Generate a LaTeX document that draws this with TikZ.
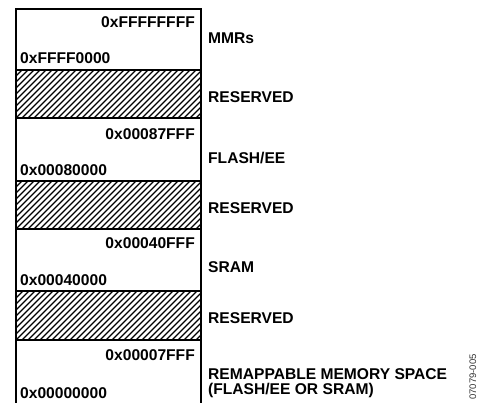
\documentclass[tikz,border=0pt]{standalone}
\usepackage{fontspec}
\setmainfont{Liberation Sans}
\usepackage{tikz}
\usetikzlibrary{positioning, calc}
\tikzset{
  mm row/.style={draw=black, fill=white, rectangle, minimum width=185pt,
    inner sep=0pt, outer sep=0pt, line width=1.3pt},
  mm hatch/.style={draw=black, line width=1.2pt},
  mm addr/.style={font=\fontsize{15.6}{16}\selectfont\bfseries, inner sep=0pt},
  mm label/.style={font=\fontsize{15.6}{15}\selectfont\bfseries, inner sep=0pt,
    align=left},
  mm tag/.style={font=\fontsize{9.5}{10}\selectfont, text=black!80, inner sep=0pt},
}
\begin{document}
\begin{tikzpicture}[x=1pt, y=-1pt]
 \useasboundingbox (0,0) rectangle (481,402);
 % memory map, top to bottom
 \node[mm row, minimum height=61pt, anchor=north west] (mmr) at (16,9) {};
 \node[mm row, minimum height=48pt, below=0pt of mmr] (res1) {};
 \node[mm row, minimum height=63pt, below=0pt of res1] (flash) {};
 \node[mm row, minimum height=48pt, below=0pt of flash] (res2) {};
 \node[mm row, minimum height=62pt, below=0pt of res2] (sram) {};
 \node[mm row, minimum height=49pt, below=0pt of sram] (res3) {};
 \node[mm row, minimum height=66pt, below=0pt of res3] (remap) {};
 % hatching of the reserved areas
 \foreach \r in {res1, res2, res3} {
   \begin{scope}
     \clip (\r.north west) rectangle (\r.south east);
     \foreach \i in {-60,-54,...,200}
       \draw[mm hatch] ($(\r.south west)+(\i,0)$) -- ++(55,-55);
   \end{scope}
   \draw[line width=1.3pt] (\r.north west) rectangle (\r.south east);
 }
 % addresses
 \node[mm addr, anchor=base east] (a1) at (195,27) {0xFFFFFFFF};
 \node[mm addr, anchor=base west] (a2) at (20,63) {0xFFFF0000};
 \node[mm addr, anchor=base east] (a3) at (195,139) {0x00087FFF};
 \node[mm addr, anchor=base west] (a4) at (20,175) {0x00080000};
 \node[mm addr, anchor=base east] (a5) at (195,248) {0x00040FFF};
 \node[mm addr, anchor=base west] (a6) at (20,285) {0x00040000};
 \node[mm addr, anchor=base east] (a7) at (195,360) {0x00007FFF};
 \node[mm addr, anchor=base west] (a8) at (20,398) {0x00000000};
 % region names
 \node[mm label, anchor=base west] (l1) at (208,43) {MMRs};
 \node[mm label, anchor=base west] (l2) at (208,102) {RESERVED};
 \node[mm label, anchor=base west] (l3) at (208,163) {FLASH/EE};
 \node[mm label, anchor=base west] (l4) at (208,213) {RESERVED};
 \node[mm label, anchor=base west] (l5) at (208,272) {SRAM};
 \node[mm label, anchor=base west] (l6) at (208,323) {RESERVED};
 \node[mm label, anchor=north west] (l7) at (208,368)
   {REMAPPABLE MEMORY SPACE\\(FLASH/EE OR SRAM)};
 \node[mm tag, rotate=90, anchor=base west] (tag) at (476,400) {07079-005};
\end{tikzpicture}
\end{document}
